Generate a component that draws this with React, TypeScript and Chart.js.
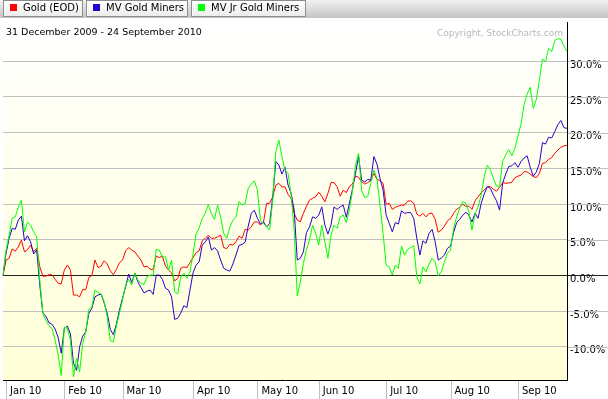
import React, { useEffect, useRef } from "react";
import { Chart, registerables } from "chart.js";

Chart.register(...registerables);

// Percent change since 31 Dec 2009, one value per trading day (31 Dec 2009 - 24 Sep 2010)
const goldEOD: number[] = [
  0, 2.15, 2.4, 3.7, 3.4, 4.0, 4.95, 3.3, 3.6, 4.25, 3.3, 3.8, 1.2, -0.1, -0.1, 0.1, 0.1, -0.55, -1.1, -1.2,
  0.75, 1.45, 0.75, -2.75, -2.75, -3.0, -2.0, -2.0, -0.3, 0, 2.15, 1.1, 1.3, 2.05, 1.6, 0.65, 0.1, 0.85, 1.8, 2.15,
  3.45, 3.9, 3.55, 3.3, 2.7, 2.15, 1.2, 1.3, 0.85, 0.85, 2.7, 2.5, 2.7, 1.3, 0.75, 0.35, -0.75, -0.45, 1.0, 1.2,
  1.1, 1.8, 2.5, 3.2, 3.45, 4.85, 5.2, 5.65, 5.2, 5.2, 5.4, 5.65, 3.9, 3.75, 4.35, 4.25, 4.7, 5.5, 5.2, 6.45,
  6.35, 6.8, 7.5, 7.5, 7.05, 7.5, 10.1, 10.1, 11.0, 12.65, 12.9, 12.4, 12.4, 11.35, 10.8, 8.7, 7.75, 7.5, 8.7, 9.7,
  10.55, 10.8, 11.0, 11.65, 11.1, 10.3, 11.5, 13.0, 13.0, 12.45, 11.1, 11.95, 11.6, 12.45, 12.8, 13.9, 13.75, 13.1, 12.8, 13.0,
  13.3, 14.3, 13.45, 13.3, 12.9, 9.95, 10.1, 9.25, 9.55, 9.7, 9.85, 9.85, 10.4, 10.45, 10.1, 8.6, 8.3, 8.7, 8.2, 8.7,
  8.7, 7.85, 6.05, 6.35, 6.9, 7.65, 7.95, 8.7, 9.25, 9.55, 10.0, 9.65, 9.7, 9.25, 10.45, 11.0, 11.6, 11.95, 12.45, 12.45,
  12.05, 11.8, 12.35, 13.0, 12.9, 12.95, 13.05, 13.7, 13.9, 14.05, 14.55, 14.5, 14.2, 13.85, 13.7, 14.3, 15.7, 15.8, 16.25, 16.5,
  17.1, 17.55, 17.95, 18.15, 18.25,
];

const mvGoldMiners: number[] = [
  0, 3.1, 5.2, 6.6, 6.45, 7.75, 8.3, 4.85, 5.55, 4.7, 3.0, 3.55, -1.35, -5.3, -5.7, -6.65, -6.85, -7.5, -8.7, -10.9,
  -7.45, -7.1, -8.2, -12.3, -13.3, -10.0, -8.5, -7.9, -5.3, -4.6, -3.0, -2.75, -2.6, -3.85, -5.3, -7.55, -8.3, -6.8, -4.85, -3.2,
  -1.6, 0.2, -1.0, 0.3, -0.9, -1.7, -2.45, -2.2, -2.05, -2.65, 0.05, 0.05, -0.55, -1.8, -2.05, -3.0, -6.15, -6.0, -5.25, -4.25,
  -4.5, -2.05, 0.35, 1.45, 1.9, 4.25, 4.7, 5.4, 3.55, 3.9, 3.45, 2.15, 1.0, 0.75, 0.6, 1.6, 2.85, 4.2, 4.35, 4.65,
  6.9, 8.7, 9.15, 8.0, 7.2, 7.5, 6.8, 7.3, 11.0, 15.95, 15.45, 14.2, 15.15, 12.65, 11.5, 9.15, 2.15, 2.4, 3.3, 6.0,
  6.8, 8.2, 8.0, 8.45, 9.6, 7.05, 5.8, 7.05, 9.6, 9.25, 9.6, 9.85, 8.15, 10.1, 12.05, 14.3, 16.65, 13.35, 13.1, 13.45,
  13.35, 16.65, 15.6, 13.6, 11.95, 8.45, 7.3, 6.1, 7.4, 7.2, 9.05, 8.7, 8.8, 8.8, 8.0, 5.2, 2.85, 4.85, 4.5, 5.9,
  6.45, 4.7, 2.15, 2.45, 2.85, 3.8, 4.1, 6.0, 7.4, 7.85, 8.45, 8.85, 8.45, 7.5, 8.7, 8.0, 10.1, 11.4, 12.45, 12.2,
  11.25, 10.45, 9.15, 12.9, 14.2, 15.25, 15.35, 15.8, 15.15, 15.95, 16.45, 16.75, 15.15, 13.9, 14.5, 15.7, 18.6, 18.4, 19.35, 19.25,
  20.15, 21.1, 21.7, 20.7, 20.6,
];

const mvJrGoldMiners: number[] = [
  0, 3.55, 5.65, 8.0, 8.2, 9.55, 10.55, 6.1, 7.45, 7.05, 6.1, 5.4, -0.65, -5.3, -6.35, -7.05, -7.45, -9.05, -11.15, -14.0,
  -7.2, -7.45, -9.05, -14.2, -11.65, -13.5, -9.55, -7.9, -4.75, -4.4, -2.05, -2.4, -2.6, -3.7, -5.8, -9.15, -9.3, -7.1, -5.3, -3.45,
  -1.35, -0.55, -1.35, 0.35, -0.65, -1.1, -1.25, -0.2, 0.05, 0.05, 3.65, 3.55, 2.6, 2.6, 0.75, 2.15, -2.3, -2.6, -0.2, 0.3,
  -0.4, 0.5, 3.0, 5.8, 6.65, 8.0, 8.7, 9.95, 8.6, 7.85, 9.85, 8.2, 5.9, 5.2, 6.75, 7.75, 8.2, 10.35, 9.85, 10.1,
  12.2, 12.8, 13.25, 11.95, 7.65, 7.3, 6.8, 6.35, 10.55, 17.35, 18.95, 16.65, 14.75, 14.3, 11.25, 6.35, -2.9, -0.9, 1.7, 3.55,
  4.95, 7.05, 5.9, 4.25, 7.05, 4.7, 2.4, 5.65, 7.05, 6.6, 8.2, 8.45, 7.4, 9.15, 11.75, 15.45, 17.1, 11.95, 10.9, 11.05,
  12.9, 14.75, 13.6, 9.85, 5.9, 1.45, 1.2, 0.05, 1.45, 1.0, 4.1, 2.85, 3.65, 3.9, 4.15, -0.2, -1.2, 1.2, 0.5, 1.6,
  2.4, 1.9, -0.05, 0.5, 1.9, 3.1, 3.55, 6.6, 8.2, 9.4, 10.35, 10.1, 8.9, 6.35, 8.6, 9.6, 11.25, 13.85, 15.45, 14.85,
  13.6, 12.5, 12.45, 15.95, 16.85, 17.65, 16.75, 17.8, 19.55, 21.2, 23.9, 25.4, 26.35, 23.4, 24.65, 27.4, 30.3, 29.95, 31.8, 31.35,
  32.9, 33.15, 33.1, 32.15, 31.35,
];

// first trading day of each month (index into the series) and its label
const monthStartIndex: number[] = [1, 20, 39, 62, 83, 103, 125, 146, 168];
const monthLabels: string[] = ["Jan 10", "Feb 10", "Mar 10", "Apr 10", "May 10", "Jun 10", "Jul 10", "Aug 10", "Sep 10"];

const yTicks: number[] = [-10, -5, 0, 5, 10, 15, 20, 25, 30];
const seriesNames: string[] = ["Gold (EOD)", "MV Gold Miners", "MV Jr Gold Miners"];
const seriesColors: string[] = ["#ff0000", "#2a00cc", "#00ff00"];
const dateRange = "31 December 2009 - 24 September 2010";
const copyright = "Copyright, StockCharts.com";

const FONT = "DejaVu Sans";
const W = 608;
const H = 399;

const decorPlugin = {
  id: "decor",
  beforeDraw(chart: any) {
    const { ctx, chartArea } = chart;
    const g = ctx.createLinearGradient(0, chartArea.top, 0, chartArea.bottom);
    g.addColorStop(0, "#ffffff");
    g.addColorStop(1, "#ffffd6");
    ctx.save();
    ctx.fillStyle = "#ffffff";
    ctx.fillRect(0, 0, W, H);
    ctx.fillStyle = g;
    ctx.fillRect(chartArea.left, chartArea.top, chartArea.right - chartArea.left, chartArea.bottom - chartArea.top);
    ctx.restore();
  },
  afterDraw(chart: any) {
    const { ctx, chartArea, scales } = chart;
    ctx.save();
    // gridline extensions under the right-hand labels
    ctx.lineWidth = 1;
    yTicks.forEach((v) => {
      const y = Math.round(scales.y.getPixelForValue(v)) + 0.5;
      ctx.strokeStyle = v === 0 ? "#222222" : "#c0c0c0";
      ctx.beginPath();
      ctx.moveTo(chartArea.right + 1, y);
      ctx.lineTo(W, y);
      ctx.stroke();
    });
    // month separators below the x axis
    ctx.strokeStyle = "#c0c0c0";
    monthStartIndex.forEach((i) => {
      const x = Math.round(scales.x.getPixelForValue(i)) + 0.5;
      ctx.beginPath();
      ctx.moveTo(x, chartArea.bottom + 1);
      ctx.lineTo(x, H);
      ctx.stroke();
    });

    // legend bar
    const bar = ctx.createLinearGradient(0, 0, 0, 18);
    bar.addColorStop(0, "#f2f2f2");
    bar.addColorStop(1, "#c4c4c4");
    ctx.fillStyle = bar;
    ctx.fillRect(0, 0, W, 18);
    const buttons = [
      { x: 3, w: 80 },
      { x: 86, w: 102 },
      { x: 191, w: 115 },
    ];
    ctx.font = `10px "${FONT}"`;
    ctx.textBaseline = "middle";
    ctx.textAlign = "left";
    buttons.forEach((b, k) => {
      const bg = ctx.createLinearGradient(0, 1, 0, 16);
      bg.addColorStop(0, "#ffffff");
      bg.addColorStop(1, "#ececec");
      ctx.fillStyle = bg;
      ctx.fillRect(b.x, 1, b.w, 15);
      ctx.strokeStyle = "#8c8c8c";
      ctx.strokeRect(b.x + 0.5, 0.5, b.w - 1, 16);
      ctx.strokeStyle = "#ffffff";
      ctx.beginPath();
      ctx.moveTo(b.x + 1.5, 15.5);
      ctx.lineTo(b.x + 1.5, 1.5);
      ctx.lineTo(b.x + b.w - 1.5, 1.5);
      ctx.stroke();
      ctx.fillStyle = seriesColors[k];
      ctx.fillRect(b.x + 7, 4, 7, 7);
      ctx.fillStyle = "#000000";
      ctx.fillText(seriesNames[k], b.x + 20, 8.5);
    });

    // header texts
    ctx.fillStyle = "#000000";
    ctx.font = `9.5px "${FONT}"`;
    ctx.fillText(dateRange, 6, 33);
    ctx.font = `9px "${FONT}"`;
    ctx.textAlign = "right";
    ctx.fillStyle = "#b8b8b8";
    ctx.fillText(copyright, 563, 34);
    ctx.restore();
  },
};

export default function App() {
  const ref = useRef<HTMLCanvasElement | null>(null);

  useEffect(() => {
    document.body.style.margin = "0";
    const canvas = ref.current;
    if (!canvas) return;
    const labels = goldEOD.map((_, i) => String(i));
    const order = [2, 1, 0];
    const chart = new Chart(canvas, {
      type: "line",
      data: {
        labels,
        datasets: [goldEOD, mvGoldMiners, mvJrGoldMiners].map((d, k) => ({
          label: seriesNames[k],
          data: d,
          borderColor: seriesColors[k],
          backgroundColor: seriesColors[k],
          borderWidth: 1,
          pointRadius: 0,
          tension: 0,
          fill: false,
          order: order[k],
        })),
      },
      options: {
        responsive: false,
        animation: false,
        devicePixelRatio: 1,
        layout: { padding: { top: 22, left: 3, right: 0, bottom: 0 } },
        plugins: { legend: { display: false }, tooltip: { enabled: false } },
        scales: {
          x: {
            type: "category",
            offset: false,
            grid: { display: false, drawTicks: false },
            border: { display: true, color: "#000000", width: 1 },
            afterBuildTicks: (s: any) => {
              s.ticks = monthStartIndex.map((v) => ({ value: v }));
            },
            afterFit: (s: any) => {
              s.height = 19;
            },
            ticks: {
              autoSkip: false,
              maxRotation: 0,
              minRotation: 0,
              align: "start",
              labelOffset: 4,
              padding: 5,
              color: "#000000",
              font: { family: FONT, size: 10 },
              callback: (_v: any, i: number) => monthLabels[i],
            },
          },
          y: {
            type: "linear",
            position: "right",
            min: -14.65,
            max: 35.5,
            afterBuildTicks: (s: any) => {
              s.ticks = yTicks.map((v) => ({ value: v }));
            },
            afterFit: (s: any) => {
              s.width = 41;
            },
            grid: {
              drawTicks: false,
              lineWidth: 1,
              color: (c: any) => (c.tick && c.tick.value === 0 ? "#222222" : "#c0c0c0"),
            },
            border: { display: true, color: "#000000", width: 1 },
            ticks: {
              autoSkip: false,
              padding: 3,
              labelOffset: 4,
              color: "#000000",
              font: { family: FONT, size: 10 },
              callback: (v: any) => Number(v).toFixed(1) + "%",
            },
          },
        },
      },
      plugins: [decorPlugin],
    });
    return () => chart.destroy();
  }, []);

  return (
    <div style={{ position: "fixed", left: 0, top: 0, width: W, height: H }}>
      <canvas ref={ref} width={W} height={H} style={{ display: "block", width: W, height: H }} />
    </div>
  );
}
